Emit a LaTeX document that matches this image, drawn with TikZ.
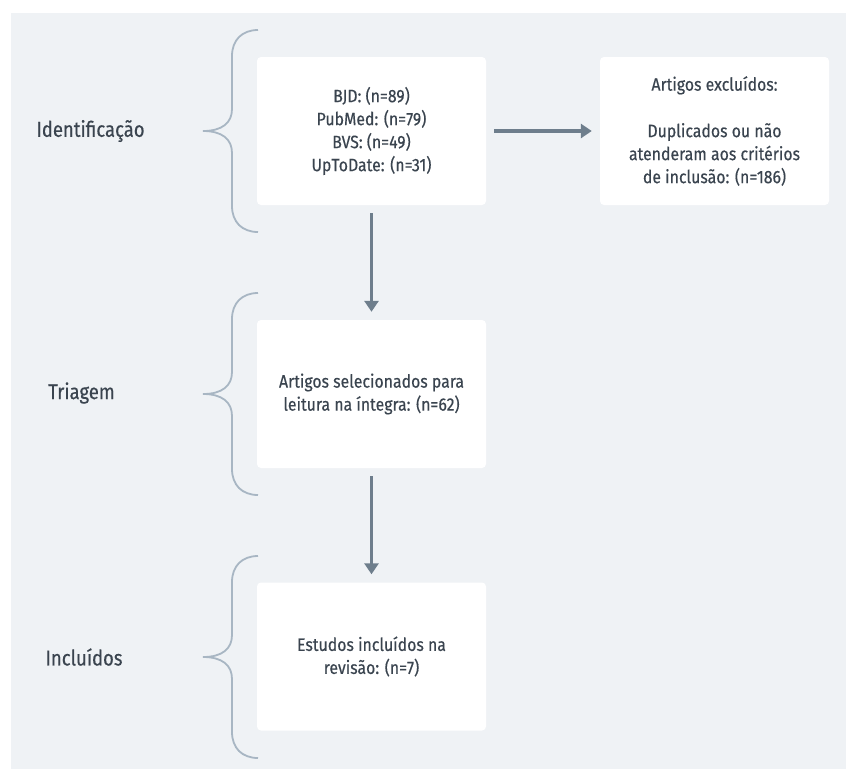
\documentclass[tikz,border=0pt]{standalone}
\usepackage{fontspec}
\setmainfont{Fira Sans}[FakeStretch=0.88,FakeBold=0.4]
\newfontfamily\stagefont{Fira Sans}[FakeStretch=0.86,FakeBold=0.4]
\usetikzlibrary{arrows.meta}
\definecolor{bgc}{HTML}{EFF2F5}
\definecolor{txt}{HTML}{3A444F}
\definecolor{arrc}{HTML}{6E7E8C}
\definecolor{brc}{HTML}{A8B6C3}
\tikzset{
  box/.style={fill=white, rounded corners=4pt, minimum width=229pt, minimum height=148pt,
    align=center, text=txt, font=\fontsize{18}{23}\selectfont, inner sep=0pt},
  stage/.style={text=txt, font=\stagefont\fontsize{21.5}{26}\selectfont, inner sep=0pt},
  arr/.style={draw=arrc, line width=3.5pt, -{Triangle[length=11pt,width=14pt]}, shorten <=8pt, shorten >=8pt},
  brace/.style={draw=brc, line width=1.8pt}
}
\newcommand{\mybrace}[1]{%
  \draw[brace] (258,#1-101) .. controls (242,#1-101) and (232,#1-91) .. (232,#1-75)
    -- (232,#1-22) .. controls (232,#1-8) and (222,#1) .. (203,#1)
    .. controls (222,#1) and (232,#1+8) .. (232,#1+22)
    -- (232,#1+75) .. controls (232,#1+91) and (242,#1+101) .. (258,#1+101);}
\begin{document}
\begin{tikzpicture}[x=1pt,y=-1pt]
\useasboundingbox (0,0) rectangle (846,769);
\fill[bgc] (11,13) rectangle (846,769);
\mybrace{131}
\mybrace{394}
\mybrace{657}
\node[box] (b1) at (371.5,131) {BJD: (n=89)\\PubMed: (n=79)\\BVS: (n=49)\\UpToDate: (n=31)};
\node[box] (b2) at (714.5,131) {Artigos excluídos:\\[23.5pt]Duplicados ou não\\atenderam aos critérios\\de inclusão: (n=186)};
\node[box] (b3) at (371.5,394) {Artigos selecionados para\\leitura na íntegra: (n=62)};
\node[box] (b4) at (371.5,656.5) {Estudos incluídos na\\revisão: (n=7)};
\node[stage] (s1) at (90.5,131) {Identificação};
\node[stage] (s2) at (81.5,393) {Triagem};
\node[stage] (s3) at (84,657) {Incluídos};
\draw[arr] (b1) -- (b2);
\draw[arr] (b1) -- (b3);
\draw[arr] (b3) -- (b4);
\end{tikzpicture}
\end{document}
